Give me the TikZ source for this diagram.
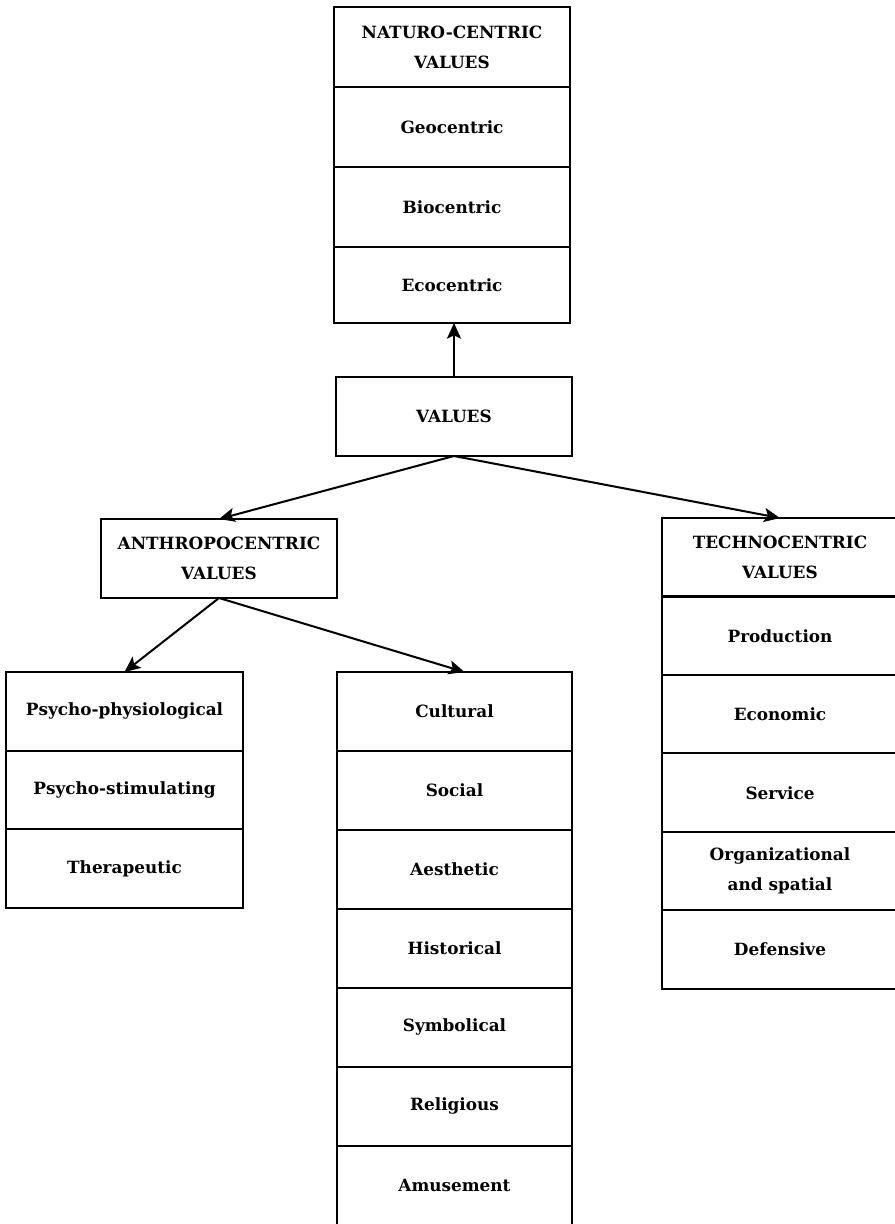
\documentclass[tikz,border=0pt]{standalone}
\usepackage{fontspec}
\setmainfont{DejaVu Serif}
\usetikzlibrary{positioning,arrows.meta}

\begin{document}
\begin{tikzpicture}[
    x=0.02cm, y=0.02cm,
    node distance=0pt,
    cell/.style={rectangle, draw=black, line width=1.15pt, outer sep=0pt, minimum width=4.72cm, minimum height=1.58cm, text centered, align=center, font=\bfseries\fontsize{9.6}{17}\selectfont},
    arrow/.style={line width=1.15pt,->,>={Stealth[length=9pt,width=8pt,inset=2pt]}}
]

\useasboundingbox (0,0) rectangle (894,-1224);

% Naturo-centric column
\node (natur) [cell, minimum height=1.6cm] at (452,-47) {NATURO-CENTRIC\\VALUES};
\node (geo) [cell, minimum height=1.6cm, below=of natur] {Geocentric};
\node (bio) [cell, minimum height=1.6cm, below=of geo] {Biocentric};
\node (eco) [cell, minimum height=1.52cm, below=of bio] {Ecocentric};

% Root
\node (values) [cell] at (454,-416.5) {VALUES};

% Anthropocentric
\node (anthro) [cell] at (219,-558.5) {ANTHROPOCENTRIC\\VALUES};

% Technocentric column
\node (techno) [cell, minimum height=1.57cm] at (780,-557.25) {TECHNOCENTRIC\\VALUES};
\node (product) [cell, minimum height=1.57cm, below=of techno] {Production};
\node (econ) [cell, minimum height=1.57cm, below=of product] {Economic};
\node (serv) [cell, minimum height=1.57cm, below=of econ] {Service};
\node (organ) [cell, minimum height=1.57cm, below=of serv] {Organizational\\and spatial};
\node (defens) [cell, minimum height=1.57cm, below=of organ] {Defensive};

% Psycho column
\node (psyphys) [cell, minimum width=4.74cm, minimum height=1.574cm] at (124.5,-711.35) {Psycho-physiological};
\node (psystim) [cell, minimum width=4.74cm, minimum height=1.574cm, below=of psyphys] {Psycho-stimulating};
\node (therap) [cell, minimum width=4.74cm, minimum height=1.574cm, below=of psystim] {Therapeutic};

% Cultural column
\node (cult) [cell, minimum width=4.7cm] at (454.5,-711.5) {Cultural};
\node (social) [cell, minimum width=4.7cm, below=of cult] {Social};
\node (aesth) [cell, minimum width=4.7cm, below=of social] {Aesthetic};
\node (hist) [cell, minimum width=4.7cm, below=of aesth] {Historical};
\node (symb) [cell, minimum width=4.7cm, below=of hist] {Symbolical};
\node (relig) [cell, minimum width=4.7cm, below=of symb] {Religious};
\node (amuse) [cell, minimum width=4.7cm, below=of relig] {Amusement};

% Arrows
\draw [arrow] (values.north) -- (values.north |- eco.south);
\draw [arrow] (values.south) -- (anthro.north);
\draw [arrow] (values.south) -- (techno.north);
\draw [arrow] (anthro.south) -- (psyphys.north);
\draw [arrow] (anthro.south) -- ([xshift=0.2cm]cult.north);

\end{tikzpicture}
\end{document}
